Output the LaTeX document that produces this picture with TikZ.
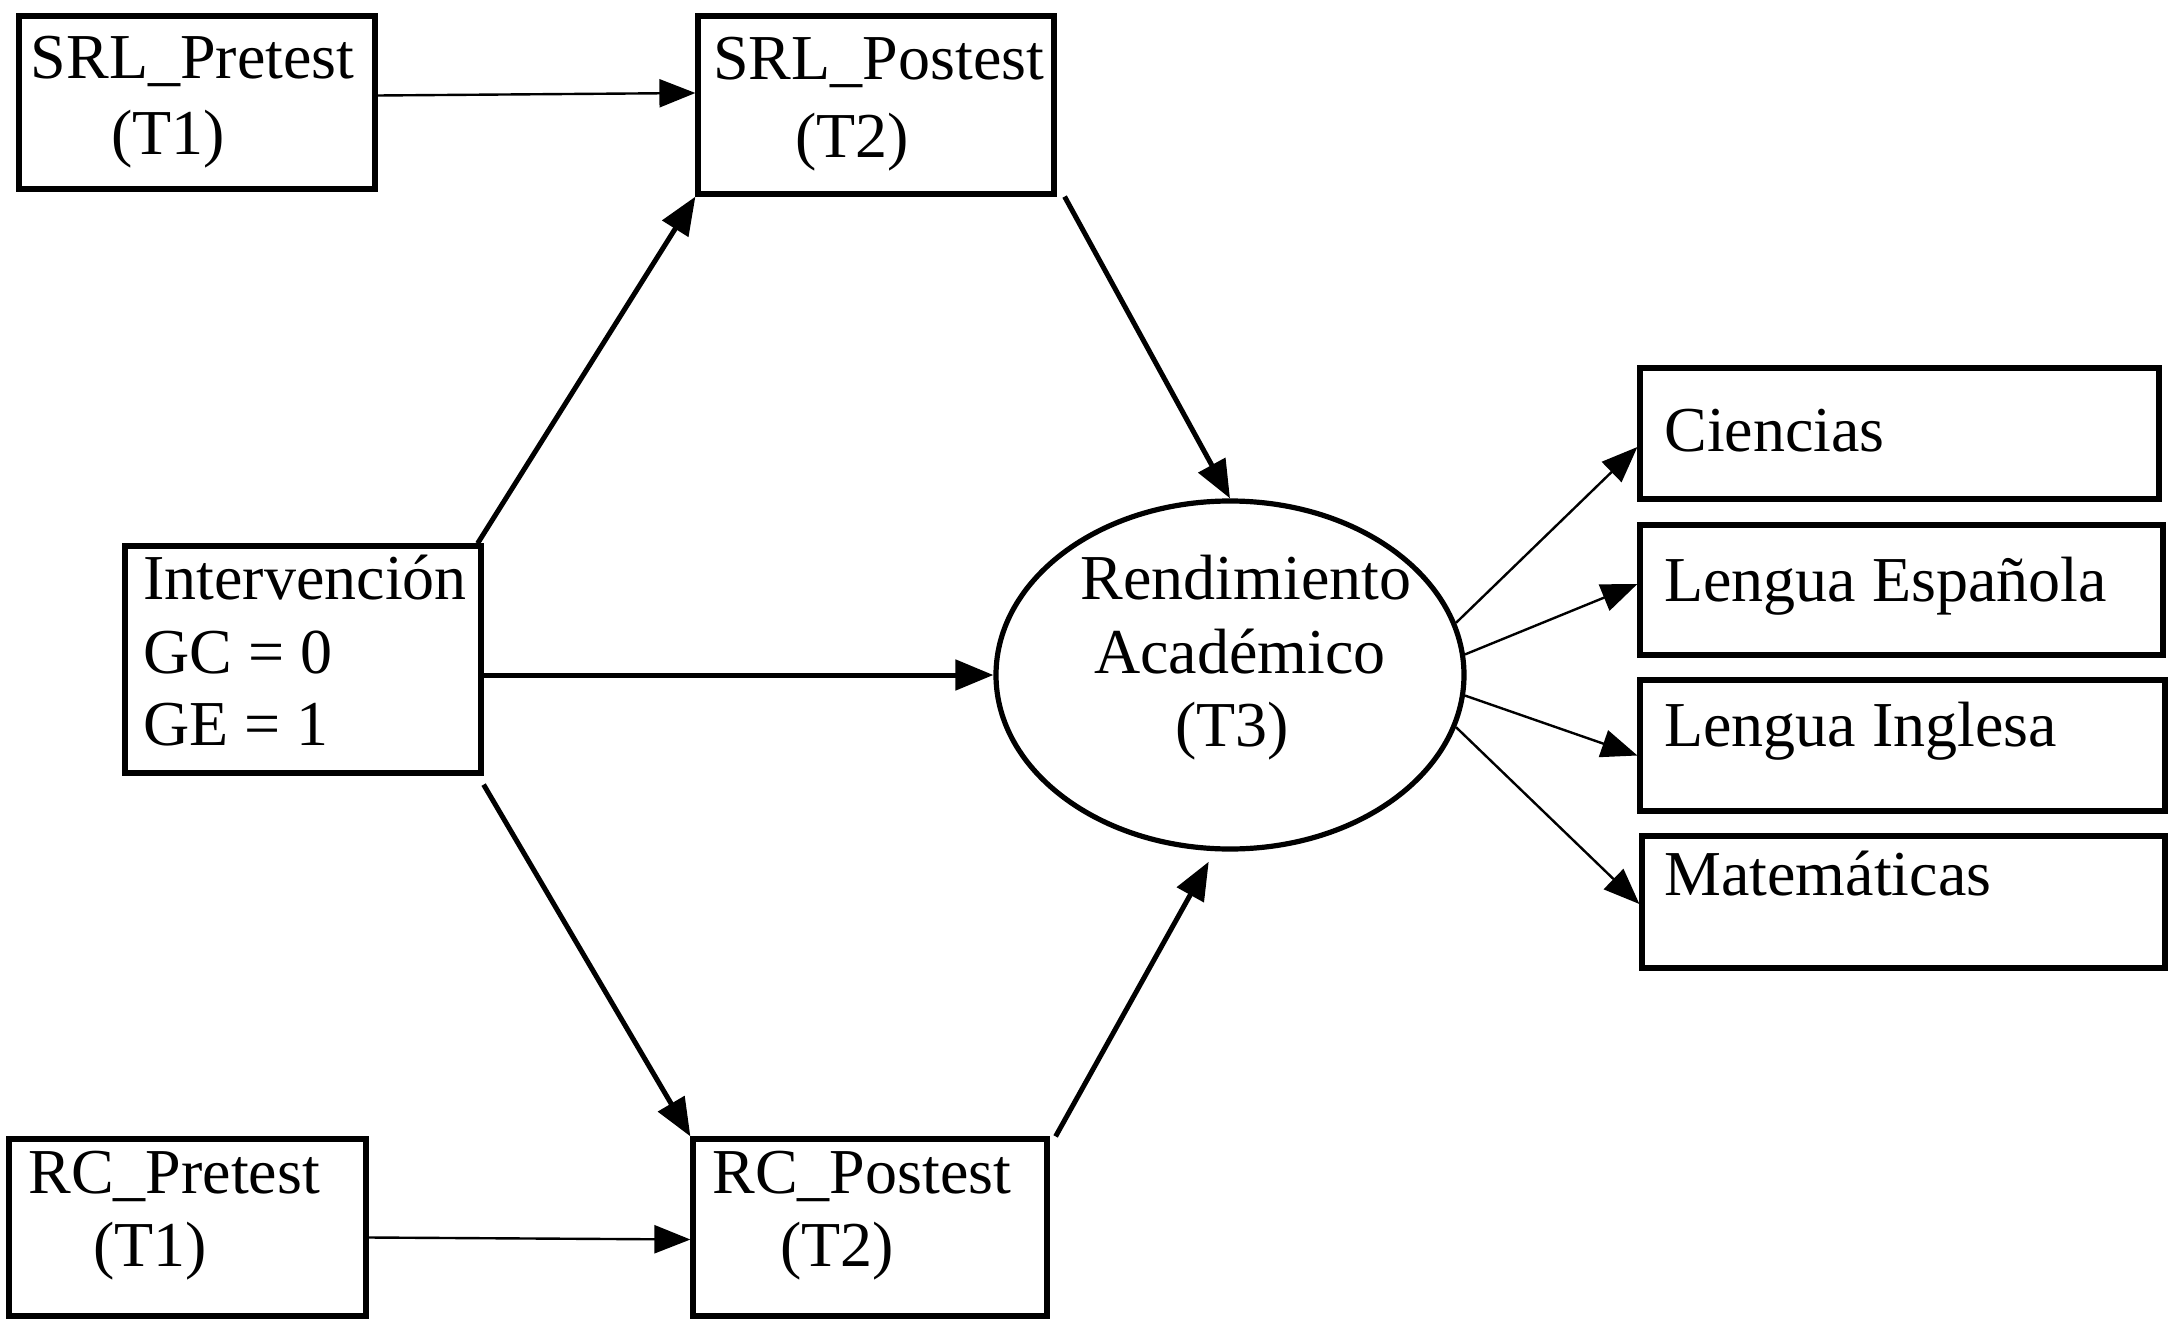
\documentclass[tikz,border=0pt]{standalone}
\usepackage{fontspec}
\setmainfont{Liberation Serif}
\usetikzlibrary{arrows.meta,shapes.geometric}
\begin{document}
\begin{tikzpicture}[x=0.5pt,y=-0.5pt,
  box/.style={draw,line width=2.6pt,rectangle,inner sep=0pt},
  txt/.style={inner sep=0pt,font=\fontsize{32}{38}\selectfont},
  bigarrow/.style={line width=2.5pt,-{Triangle[length=19pt,width=15pt]}},
  smallarrow/.style={line width=1.2pt,-{Triangle[length=18pt,width=14pt]}}]
\fill[white] (0,0) rectangle (2175,1327);
\useasboundingbox (0,0) rectangle (2175,1327);

% boxes
\node[box,minimum width=178pt,minimum height=86.5pt] (srlpre) at (197,102.5) {};
\node[box,minimum width=178pt,minimum height=89pt] (srlpost) at (876,105) {};
\node[box,minimum width=178pt,minimum height=113.5pt] (interv) at (303,659.5) {};
\node[box,minimum width=178.5pt,minimum height=88.5pt] (rcpre) at (187.5,1227.5) {};
\node[box,minimum width=177pt,minimum height=88.5pt] (rcpost) at (870,1227.5) {};
\node[box,minimum width=259.5pt,minimum height=65.5pt] (ciencias) at (1899.5,433.5) {};
\node[box,minimum width=261.5pt,minimum height=65pt] (espanola) at (1901.5,590) {};
\node[box,minimum width=262.5pt,minimum height=65.5pt] (inglesa) at (1902.5,745.5) {};
\node[box,minimum width=261.5pt,minimum height=66pt] (mate) at (1903.5,902) {};
\node[draw,ellipse,line width=2.6pt,minimum width=234pt,minimum height=174pt,inner sep=0pt] (rend) at (1230,675) {};

% texts
\node[txt,anchor=base west] (srlpreA) at (30.5,79) {SRL\_Pretest};
\node[txt,anchor=base west] (srlpreB) at (111,155) {(T1)};
\node[txt,anchor=base west] (srlpostA) at (713,80) {SRL\_Postest};
\node[txt,anchor=base west] (srlpostB) at (795,157) {(T2)};
\node[txt,anchor=base west] (intervA) at (143,599) {Intervención};
\node[txt,anchor=base west] (intervB) at (143,673) {GC = 0};
\node[txt,anchor=base west] (intervC) at (143,745) {GE = 1};
\node[txt,anchor=base] (rendA) at (1246,599) {Rendimiento};
\node[txt,anchor=base] (rendB) at (1240,673) {Académico};
\node[txt,anchor=base] (rendC) at (1232,746) {(T3)};
\node[txt,anchor=base west] (rcpreA) at (28,1193) {RC\_Pretest};
\node[txt,anchor=base west] (rcpreB) at (93,1266) {(T1)};
\node[txt,anchor=base west] (rcpostA) at (712,1193) {RC\_Postest};
\node[txt,anchor=base west] (rcpostB) at (780,1266) {(T2)};
\node[txt,anchor=base west] (cienciasA) at (1664,451) {Ciencias};
\node[txt,anchor=base west] (espanolaA) at (1664,601) {Lengua Española};
\node[txt,anchor=base west] (inglesaA) at (1664,746) {Lengua Inglesa};
\node[txt,anchor=base west] (mateA) at (1664,895) {Matemáticas};

% connectors
\draw[smallarrow] ([yshift=3.5pt]srlpre.east) -- ([yshift=6pt]srlpost.west);
\draw[bigarrow] ([xshift=-3pt]interv.north east) -- (srlpost.south west);
\draw[bigarrow] ([xshift=4pt]srlpost.south east) -- (rend.north);
\draw[bigarrow] (interv.east |- rend.west) -- (rend.west);
\draw[bigarrow] ([yshift=-4.5pt]interv.south east) -- (rcpost.north west);
\draw[bigarrow,shorten >=6pt] ([xshift=3pt]rcpost.north east) -- (rend.265);
\draw[smallarrow] ([yshift=-5pt]rcpre.east) -- ([yshift=-6pt]rcpost.west);
\draw[smallarrow] (rend.13) -- ([yshift=-6.75pt]ciencias.west);
\draw[smallarrow] (rend.5) -- ([yshift=3pt]espanola.west);
\draw[smallarrow] (rend.-5) -- ([yshift=-5pt]inglesa.west);
\draw[smallarrow] (rend.-13) -- ([yshift=-1pt]mate.west);
\end{tikzpicture}
\end{document}
